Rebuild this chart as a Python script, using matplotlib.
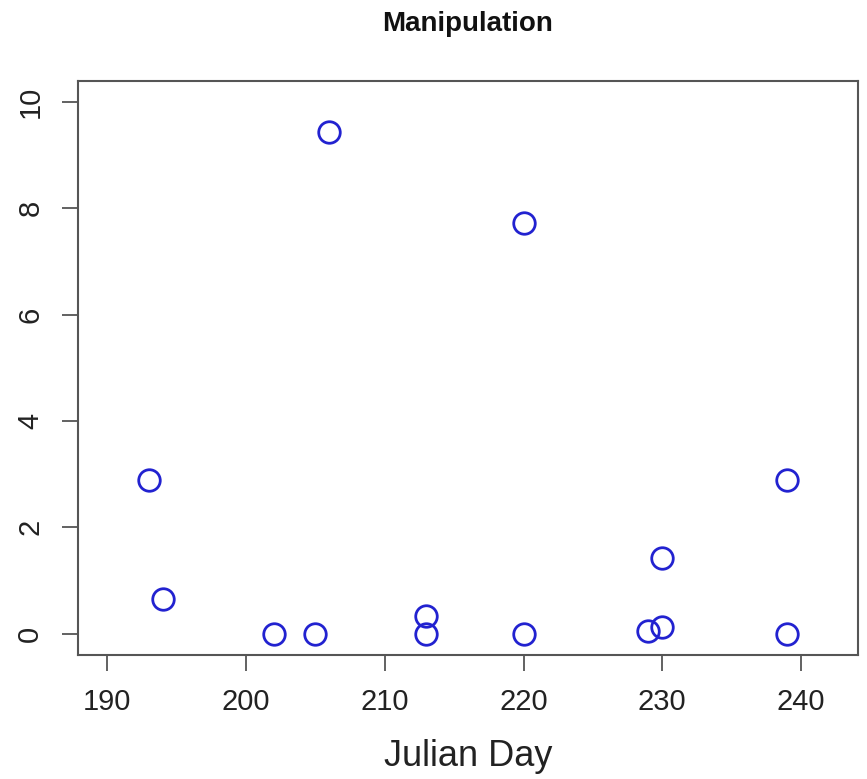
import matplotlib
matplotlib.use("Agg")
import matplotlib.pyplot as plt

# Julian day of each sample and the measured value
julian_day = [193, 194, 202, 205, 206, 213, 213, 220, 220, 229, 230, 230, 239, 239]
value = [2.89, 0.66, 0.0, 0.0, 9.43, 0.34, 0.0, 7.72, 0.0, 0.05, 0.12, 1.42, 2.89, 0.0]

x_ticks = [190, 200, 210, 220, 230, 240]
y_ticks = [0, 2, 4, 6, 8, 10]

plt.rcParams["font.family"] = ["Liberation Sans", "DejaVu Sans"]

fig = plt.figure(figsize=(8.67, 7.79), dpi=100)
ax = fig.add_axes([0.0903, 0.1592, 0.899, 0.7372])

ax.plot(julian_day, value, linestyle="none", marker="o", markersize=15.5,
        markerfacecolor="none", markeredgecolor="#2222d0", markeredgewidth=2.0)

# R-style 4% padding around the limits
xlo, xhi = 190, 242
ylo, yhi = 0, 10
px = 0.04 * (xhi - xlo)
py = 0.04 * (yhi - ylo)
ax.set_xlim(xlo - px, xhi + px)
ax.set_ylim(ylo - py, yhi + py)

ax.set_xticks(x_ticks)
ax.set_yticks(y_ticks)
ax.set_xticklabels([str(t) for t in x_ticks])
ax.set_yticklabels([str(t) for t in y_ticks], rotation=90, va="center")

for s in ax.spines.values():
    s.set_color("#555555")
    s.set_linewidth(1.5)

ax.tick_params(axis="both", direction="out", length=11.5, width=1.3,
               color="#555555", labelsize=21, labelcolor="#222222")
ax.tick_params(axis="x", pad=12)
ax.tick_params(axis="y", pad=13)

ax.set_xlabel("Julian Day", fontsize=26, color="#222222", labelpad=17)
fig.text(0.5398, 0.969, "Manipulation", fontsize=20, fontweight="bold",
         ha="center", va="center", color="#111111")

fig.savefig("out.png", dpi=100, facecolor="white")
